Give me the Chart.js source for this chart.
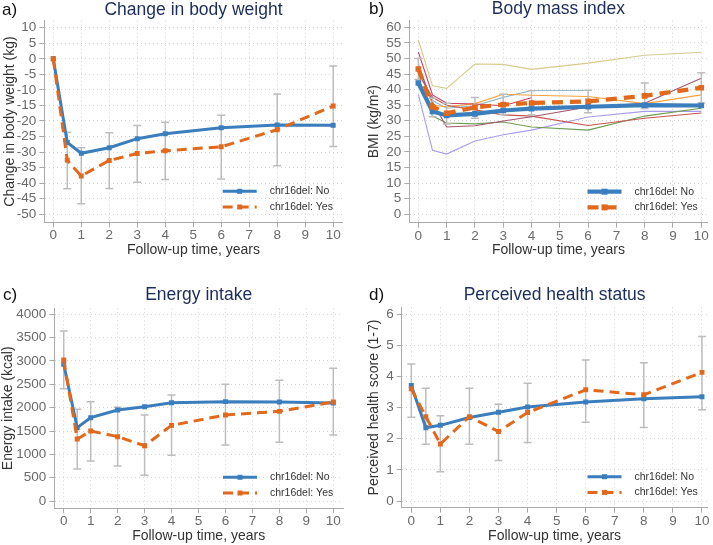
<!DOCTYPE html>
<html><head><meta charset="utf-8">
<script src="https://cdn.jsdelivr.net/npm/chart.js@4/dist/chart.umd.min.js"></script>
<style>
html,body{margin:0;padding:0;background:#fff;}
#wrap{position:relative;width:713px;height:545px;overflow:hidden;background:#fff;}
canvas{position:absolute;}
</style></head><body>
<div id="wrap">
<canvas id="ca" width="356" height="270" style="left:0;top:0;width:356px;height:270px"></canvas>
<canvas id="cb" width="357" height="270" style="left:356px;top:0;width:357px;height:270px"></canvas>
<canvas id="cc" width="356" height="275" style="left:0;top:270px;width:356px;height:275px"></canvas>
<canvas id="cd" width="357" height="275" style="left:356px;top:270px;width:357px;height:275px"></canvas>
</div>
<script>
// ---------- data ----------
const years = [0, 0.5, 1, 2, 3, 4, 6, 8, 10];
const xTickValues = [0, 1, 2, 3, 4, 5, 6, 7, 8, 9, 10];
const legendLabels = ['chr16del: No', 'chr16del: Yes'];
const xTitle = 'Follow-up time, years';

// a) Change in body weight
const weightNo   = [0, -26.9, -30.4, -28.6, -25.7, -24.1, -22.2, -21.3, -21.4];
const weightYes  = [0, -32.6, -37.7, -32.7, -30.5, -29.6, -28.3, -22.8, -15.2];
const weightLow  = [null, -41.8, -46.6, -41.7, -39.7, -38.8, -38.7, -34.4, -28.2];
const weightHigh = [null, -23.6, -28.6, -23.8, -21.5, -20.4, -18.2, -11.3, -2.3];
const weightTicks = [10, 5, 0, -5, -10, -15, -20, -25, -30, -35, -40, -45, -50];

// b) Body mass index
const bmiNo   = [42.1, 33.0, 31.7, 32.2, 33.3, 33.9, 34.5, 35.0, 34.9];
const bmiYes  = [46.6, 34.5, 32.4, 34.3, 35.2, 35.7, 36.2, 38.0, 40.6];
const bmiLow  = [43.2, 31.3, 29.0, 30.8, 31.9, 31.9, 32.6, 33.9, 35.7];
const bmiHigh = [50.0, 37.2, 35.6, 37.5, 38.5, 39.6, 39.8, 42.1, 45.4];
const bmiInd1 = [55.9, 41.2, 40.4, 48.2, 48.1, 46.5, 48.5, 51.0, 52.0];
const bmiInd2 = [52.0, 38.3, 35.6, 35.4, 34.8, 37.4, null, null, null];
const bmiInd3 = [47.5, 36.0, 28.0, 28.4, 29.9, 31.3, 34.4, 35.6, 43.6];
const bmiInd4 = [45.0, 37.5, 35.0, 33.5, 31.9, 31.5, 28.5, 30.8, 32.5];
const bmiInd5 = [44.0, 31.5, 29.3, 29.0, 29.6, 28.0, 27.0, 31.5, 34.0];
const bmiInd6 = [38.5, 20.5, 19.3, 23.5, 25.5, 27.0, 31.2, 33.0, 33.0];
const bmiInd7 = [48.5, 35.0, 34.5, 35.5, 38.5, 38.2, 37.8, 35.5, 38.3];
const bmiInd8 = [46.0, 36.5, 34.0, 34.8, 37.5, 39.7, 39.7, null, null];
const bmiIndColors = ['#d6ca8e', '#cc3a62', '#a3546e', '#c4544c', '#6f9c52', '#a99cea', '#f5a23c', '#90b8c8'];
const bmiTicks = [60, 55, 50, 45, 40, 35, 30, 25, 20, 15, 10, 5, 0];

// c) Energy intake
const energyNo   = [2929, 1571, 1786, 1950, 2021, 2107, 2129, 2121, 2100];
const energyYes  = [3021, 1329, 1500, 1379, 1186, 1621, 1843, 1921, 2121];
const energyLow  = [2407, 686, 857, 750, 550, 978, 1200, 1257, 1414];
const energyHigh = [3643, 1964, 2129, 2008, 1843, 2271, 2500, 2586, 2843];
const energyTicks = [4000, 3500, 3000, 2500, 2000, 1500, 1000, 500, 0];

// d) Perceived health status
const healthNo   = [3.71, 2.35, 2.43, 2.68, 2.85, 3.02, 3.18, 3.28, 3.35];
const healthYes  = [3.60, 2.71, 1.83, 2.71, 2.23, 2.84, 3.57, 3.41, 4.13];
const healthLow  = [2.69, 1.82, 0.94, 1.82, 1.30, 1.88, 2.53, 2.36, 2.93];
const healthHigh = [4.40, 3.62, 2.74, 3.62, 3.11, 3.78, 4.53, 4.44, 5.28];
const healthTicks = [6, 5, 4, 3, 2, 1, 0];

// ---------- styling ----------
const BLUE = '#3a7ebd';
const ORANGE = '#e2691c';
const ERR = '#bdbdbd';
const FONT = '"Liberation Sans", Arial, sans-serif';
Chart.defaults.font.family = FONT;
Chart.defaults.animation = false;
Chart.defaults.devicePixelRatio = 1;

function pts(arr) { return years.map((x, i) => ({x: x, y: arr[i]})); }
function errPts(lo, hi) {
  const out = [];
  years.forEach((x, i) => {
    if (lo[i] == null) return;
    out.push({x: x, y: lo[i]}, {x: x, y: hi[i]}, {x: x, y: null});
  });
  return out;
}

const decor = {
  id: 'decor',
  afterDraw(chart, args, o) {
    const ctx = chart.ctx, ca = chart.chartArea;
    ctx.save();
    ctx.textBaseline = 'middle';
    ctx.textAlign = 'left';
    ctx.fillStyle = '#111';
    ctx.font = '17px ' + FONT;
    ctx.fillText(o.label, o.labelX, o.titleY);
    ctx.fillStyle = '#1c2c5b';
    ctx.textAlign = 'center';
    ctx.font = '17.5px ' + FONT;
    ctx.fillText(o.title, (ca.left + ca.right) / 2, o.titleY);
    // legend inside plot
    const ds = [chart.data.datasets[1], chart.data.datasets[0]];
    ds.forEach((d, i) => {
      const y = ca.bottom - 31 + i * 15.7;
      const x1 = ca.right - 120, x2 = ca.right - 86;
      ctx.strokeStyle = d.borderColor;
      ctx.lineWidth = d.borderWidth;
      ctx.setLineDash(d.borderDash || []);
      ctx.beginPath(); ctx.moveTo(x1, y); ctx.lineTo(x2, y); ctx.stroke();
      ctx.setLineDash([]);
      ctx.fillStyle = d.borderColor;
      const s = o.mk;
      ctx.fillRect((x1 + x2) / 2 - s / 2, y - s / 2, s, s);
      ctx.fillStyle = '#333';
      ctx.textAlign = 'left';
      ctx.font = '10.5px ' + FONT;
      ctx.fillText(legendLabels[i], ca.right - 73, y);
    });
    ctx.restore();
  }
};

function gridOpts() {
  return {color: '#d4d4d4', lineWidth: 1, drawTicks: true, tickLength: 5,
          tickColor: '#aaaaaa', tickWidth: 1, tickBorderDash: []};
}
function borderOpts() { return {display: true, color: '#aaaaaa', width: 1, dash: [1, 3]}; }

function makePanel(id, p) {
  const main = [
    {label: legendLabels[1], data: pts(p.yes), borderColor: ORANGE, backgroundColor: ORANGE,
     borderWidth: p.lw, borderDash: p.dash, borderCapStyle: 'butt', pointStyle: 'rect',
     pointRadius: p.pr, pointBorderWidth: 0, pointBackgroundColor: ORANGE, order: 0},
    {label: legendLabels[0], data: pts(p.no), borderColor: BLUE, backgroundColor: BLUE,
     borderWidth: p.lw, pointStyle: 'rect', pointRadius: p.pr, pointBorderWidth: 0,
     pointBackgroundColor: BLUE, order: 1},
    {label: 'sd', data: errPts(p.lo, p.hi), borderColor: ERR, borderWidth: 1.5, spanGaps: false,
     pointStyle: 'line', pointRadius: 4, pointBorderColor: ERR, pointBorderWidth: 1.5, order: 2}
  ];
  (p.extra || []).forEach(d => main.push(d));
  new Chart(document.getElementById(id), {
    type: 'line',
    data: {datasets: main},
    options: {
      responsive: false, animation: false, devicePixelRatio: 1,
      layout: {padding: {left: 0, top: p.padTop, right: p.padRight, bottom: 0}},
      plugins: {legend: {display: false}, tooltip: {enabled: false}, title: {display: false},
        decor: {label: p.label, labelX: p.labelX, title: p.title, titleY: p.titleY, mk: p.mk}},
      scales: {
        x: {type: 'linear', min: p.xmin, max: p.xmax,
          afterBuildTicks: s => { s.ticks = xTickValues.map(v => ({value: v})); },
          afterFit: s => { s.height = p.xH; },
          grid: gridOpts(), border: borderOpts(),
          ticks: {color: '#6a6a6a', font: {size: 13.5}, padding: 0, maxRotation: 0, autoSkip: false,
                  callback: v => String(v)},
          title: {display: true, text: xTitle, color: '#333', font: {size: 14}, padding: {top: 0, bottom: p.xtPad}}},
        y: {type: 'linear', min: p.ymin, max: p.ymax,
          afterBuildTicks: s => { s.ticks = p.ticks.map(v => ({value: v})); },
          afterFit: s => { s.width = p.yW; },
          grid: gridOpts(), border: borderOpts(),
          ticks: {color: '#6a6a6a', font: {size: 13.5}, padding: 3, autoSkip: false,
                  callback: v => String(v)},
          title: {display: true, text: p.ytitle, color: '#333', font: {size: 14}, padding: {top: p.ytPad, bottom: 0}}}
      }
    },
    plugins: [decor]
  });
}

makePanel('ca', {no: weightNo, yes: weightYes, lo: weightLow, hi: weightHigh, ticks: weightTicks,
  label: 'a)', labelX: 2, title: 'Change in body weight', titleY: 10,
  ytitle: 'Change in body weight (kg)', padTop: 20.7, padRight: 13.3, yW: 44.3, xH: 47.7,
  xmin: -0.32, xmax: 10.34, ymin: -52.6, ymax: 12.25, ytPad: 1.6, xtPad: 11,
  lw: 3, dash: [10, 6], pr: 3.5, mk: 5});

const bmiExtra = [bmiInd1, bmiInd2, bmiInd3, bmiInd4, bmiInd5, bmiInd6, bmiInd7, bmiInd8].map((arr, i) => ({
  label: 'ind' + (i + 1), data: pts(arr), borderColor: bmiIndColors[i], borderWidth: 1.1,
  pointRadius: 0, spanGaps: false, order: 3
}));
makePanel('cb', {no: bmiNo, yes: bmiYes, lo: bmiLow, hi: bmiHigh, ticks: bmiTicks, extra: bmiExtra,
  label: 'b)', labelX: 13, title: 'Body mass index', titleY: 9.5,
  ytitle: 'BMI (kg/m\u00B2)', padTop: 20.7, padRight: 3, yW: 53.3, xH: 47.3,
  xmin: -0.32, xmax: 10.22, ymin: -2.7, ymax: 62.1, ytPad: 10, xtPad: 11,
  lw: 4.2, dash: [11, 7], pr: 4, mk: 6});

makePanel('cc', {no: energyNo, yes: energyYes, lo: energyLow, hi: energyHigh, ticks: energyTicks,
  label: 'c)', labelX: 3, title: 'Energy intake', titleY: 25,
  ytitle: 'Energy intake (kcal)', padTop: 38.3, padRight: 13, yW: 54.3, xH: 36.7,
  xmin: -0.35, xmax: 10.36, ymin: -156, ymax: 4129, ytPad: 0, xtPad: 0,
  lw: 3, dash: [10, 6], pr: 3.5, mk: 5});

makePanel('cd', {no: healthNo, yes: healthYes, lo: healthLow, hi: healthHigh, ticks: healthTicks,
  label: 'd)', labelX: 13, title: 'Perceived health status', titleY: 25,
  ytitle: 'Perceived health score (1-7)', padTop: 37.3, padRight: 3.7, yW: 45.7, xH: 37.3,
  xmin: -0.33, xmax: 10.19, ymin: -0.215, ymax: 6.22, ytPad: 10, xtPad: 0,
  lw: 3, dash: [10, 6], pr: 3.5, mk: 5});
</script>
</body></html>
